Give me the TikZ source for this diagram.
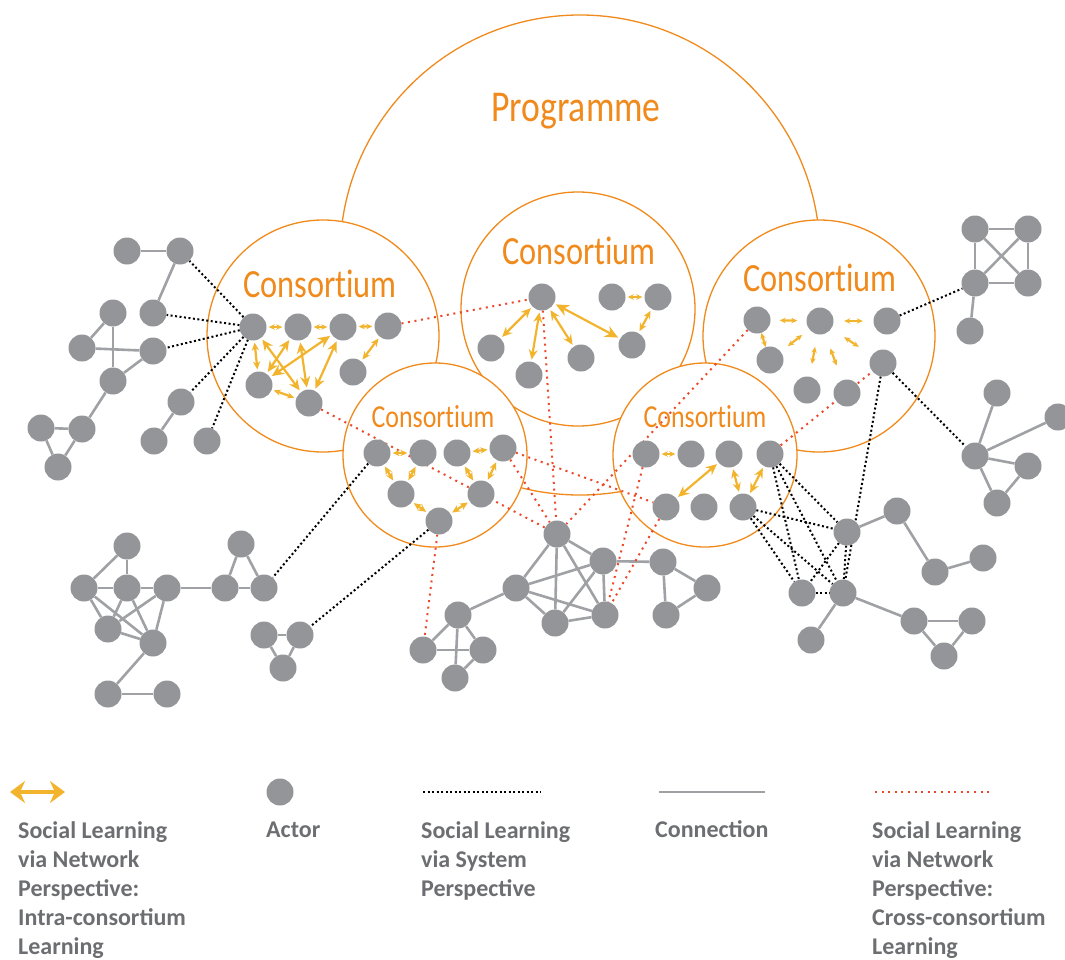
\documentclass[tikz,border=0pt]{standalone}
\usepackage{fontspec}
\usepackage{xcolor}
\definecolor{actorgray}{RGB}{147,149,152}
\definecolor{tiegray}{RGB}{160,161,165}
\definecolor{tangerine}{RGB}{240,138,28}
\definecolor{sunflower}{RGB}{242,180,45}
\definecolor{cinnabar}{RGB}{238,72,42}
\definecolor{slate}{RGB}{109,110,113}
\newfontfamily\titlefont[FakeStretch=0.81,Ligatures=NoCommon]{Carlito}
\newfontfamily\keyfont{Carlito}
\usepackage{tikz}
\usetikzlibrary{arrows.meta}
\pgfdeclarelayer{circles}
\pgfdeclarelayer{links}
\pgfsetlayers{circles,links,main}

\begin{document}
\begin{tikzpicture}[x=1pt,y=-1pt,
    actor/.style={circle,fill=actorgray,minimum size=27pt,inner sep=0pt},
    consortium/.style={circle,draw=tangerine,line width=1.3pt,fill=white,inner sep=0pt,minimum size=#1},
    title/.style={text=tangerine,anchor=base,inner sep=0pt,font=\titlefont\fontsize{#1}{#1}\selectfont},
    tie/.style={draw=tiegray,line width=2.6pt},
    systemlink/.style={draw=black,line width=2pt,dash pattern=on 2pt off 2.5pt},
    crosslink/.style={draw=cinnabar,line width=2pt,dash pattern=on 2pt off 4.6pt},
    intralink/.style={draw=sunflower,line width=2.2pt,{Stealth[length=#1,width=#1,scale width=0.9]}-{Stealth[length=#1,width=#1,scale width=0.9]},shorten <=2pt,shorten >=2pt},
    intralink/.default=9pt,
    floating/.style={intralink=6pt,shorten <=#1,shorten >=#1},
    key/.style={text=slate,anchor=north west,inner sep=0pt,align=left,font=\keyfont\bfseries\fontsize{24}{29}\selectfont}
  ]
\useasboundingbox (0,0) rectangle (1065,959);

% programme and consortia
\begin{pgfonlayer}{circles}
\node[consortium=480pt] (prog) at (580,255) {};
\node[consortium=232pt] (conL) at (323,336) {};
\node[consortium=234pt] (conM) at (578,309) {};
\node[consortium=232pt] (conR) at (819,336) {};
\node[consortium=184pt] (conLL) at (435,455) {};
\node[consortium=184pt] (conLR) at (705,455) {};
\end{pgfonlayer}

% actors
\foreach \n/\x/\y in {l1/253/327, l2/298/327, l3/343/327, l4/388/326, l5/259/385, l6/309/403, l7/353/372,
    m1/542/297, m2/612/297, m3/658/297, m4/491/348, m5/529/375, m6/581/358, m7/632/345,
    r1/757/320, r2/820/321, r3/887/321, r4/770/360, r5/883/363, r6/807/390, r7/847/393,
    ll1/377/453, ll2/423/453, ll3/457/453, ll4/503/448, ll5/401/494, ll6/481/494, ll7/439/521,
    lr1/646/454, lr2/691/454, lr3/729/454, lr4/770/454, lr5/666/507, lr6/704/507, lr7/743/507}
  \node[actor] (\n) at (\x,\y) {};
\foreach \n/\x/\y in {a1/127/251, a2/180/251, a3/153/313, a4/113/313, a5/82/348, a6/153/351, a7/113/381,
    a8/82/429, a9/41/428, a10/58/467, a11/181/402, a12/154/441, a13/207/441,
    q1/975/229, q2/1028/229, q3/975/283, q4/1028/283, q5/970/331,
    s1/997/393, s2/1058/417, s3/975/456, s4/1028/466, s5/997/503,
    c1/127/546, c2/84/588, c3/127/588, c4/167/588, c5/108/629, c6/153/643, c7/108/694,
    c8/167/694, c9/225/588, c10/241/544, c11/264/588, c12/264/635, c13/300/635, c14/283/668,
    b1/557/534, b2/603/561, b3/516/588, b4/605/615, b5/555/623, b6/458/615, b7/423/650,
    b8/483/650, b9/455/678, d1/663/562, d2/707/588, d3/666/615,
    e1/847/532, e2/897/511, e3/935/572, e4/983/558, e5/802/593, e6/843/593, e7/811/640,
    e8/914/621, e9/972/621, e10/944/656}
  \node[actor] (\n) at (\x,\y) {};

\begin{pgfonlayer}{links}
% connections
\foreach \u/\v in {a1/a2, a2/a3, a4/a5, a4/a7, a5/a6, a6/a7, a7/a8, a8/a9, a9/a10, a8/a10, a11/a12,
    q1/q2, q1/q3, q2/q4, q3/q4, q1/q4, q2/q3, q3/q5,
    s3/s1, s3/s2, s3/s4, s3/s5, s4/s5,
    c1/c2, c1/c3, c2/c3, c3/c4, c2/c5, c2/c6, c3/c5, c3/c6, c4/c5, c4/c6, c5/c6,
    c4/c9, c9/c10, c10/c11, c9/c11, c6/c7, c7/c8, c12/c13, c12/c14, c13/c14,
    b1/b2, b1/b3, b1/b4, b1/b5, b2/b3, b2/b4, b2/b5, b3/b4, b3/b5, b4/b5,
    b3/b6, b6/b7, b6/b8, b6/b9, b7/b8, b8/b9,
    b2/d1, d1/d2, d1/d3, d2/d3,
    e1/e2, e2/e3, e3/e4, e6/e7, e6/e8, e8/e9, e8/e10, e9/e10}
  \draw[tie] (\u) -- (\v);
% system perspective
\foreach \u/\v in {l1/a2, l1/a3, l1/a6, l1/a11, l1/a13, r3/q3, r5/s3, r5/e6, ll1/c11, ll7/c13,
    lr4/e1, lr4/e5, lr4/e6, lr7/e1, lr7/e5, lr7/e6, e1/e5, e1/e6, e5/e6}
  \draw[systemlink] (\u) -- (\v);
% cross-consortium
\foreach \u/\v in {l4/m1, l6/b1, m1/b1, ll4/b1, ll4/lr5, ll7/b7, r1/b1, lr1/b4, lr5/b4, lr4/r5}
  \draw[crosslink] (\u) -- (\v);
\end{pgfonlayer}

% intra-consortium
\foreach \u/\v/\s in {l1/l2/6pt, l2/l3/6pt, l3/l4/6pt, l1/l5/8pt, l4/l7/8pt, l5/l6/7pt,
    l1/l6/11pt, l2/l5/11pt, l2/l6/11pt, l3/l5/12pt, l3/l6/11pt,
    m1/m4/10pt, m1/m5/10pt, m1/m6/10pt, m1/m7/13pt, m2/m3/6pt, m3/m7/8pt,
    ll1/ll2/7pt, ll3/ll4/7pt, ll1/ll5/8pt, ll2/ll5/8pt, ll3/ll6/8pt, ll4/ll6/8pt, ll5/ll7/8pt, ll6/ll7/8pt,
    lr1/lr2/6pt, lr3/lr5/11pt, lr3/lr7/9pt, lr4/lr7/10pt}
  \draw[intralink=\s] (\u) -- (\v);
\foreach \u/\v/\s in {r1/r2/9pt, r2/r3/10.5pt, r1/r4/0pt, r4/r2/9pt, r2/r6/12.7pt, r2/r7/15.7pt, r2/r5/15.4pt}
  \draw[floating=\s] (\u) -- (\v);

% names
\node[title=44] (progname) at (576,121) {Programme};
\node[title=40] (conLname) at (320,297) {Consortium};
\node[title=40] (conMname) at (579,264) {Consortium};
\node[title=40] (conRname) at (820,291) {Consortium};
\node[title=32] (conLLname) at (433,427) {Consortium};
\node[title=32] (conLRname) at (705,427) {Consortium};

% legend
\coordinate (k1a) at (10,792);
\coordinate (k1b) at (65,792);
\draw[draw=sunflower,line width=4pt,{Stealth[length=15pt,width=22pt]}-{Stealth[length=15pt,width=22pt]}] (k1a) -- (k1b);
\node[actor] (k2) at (280,792) {};
\coordinate (k3a) at (423,792);
\coordinate (k3b) at (541,792);
\draw[systemlink] (k3a) -- (k3b);
\coordinate (k4a) at (659,792);
\coordinate (k4b) at (765,792);
\draw[tie] (k4a) -- (k4b);
\coordinate (k5a) at (875,792);
\coordinate (k5b) at (990,792);
\draw[crosslink] (k5a) -- (k5b);
\node[key] (k1txt) at (18,821) {Social Learning\\via Network\\Perspective:\\Intra-consortium\\Learning};
\node[key,anchor=base west] (k2txt) at (266,837) {Actor};
\node[key] (k3txt) at (421,821) {Social Learning\\via System\\Perspective};
\node[key,anchor=base west] (k4txt) at (655,837) {Connection};
\node[key] (k5txt) at (872,821) {Social Learning\\via Network\\Perspective:\\Cross-consortium\\Learning};
\end{tikzpicture}
\end{document}
